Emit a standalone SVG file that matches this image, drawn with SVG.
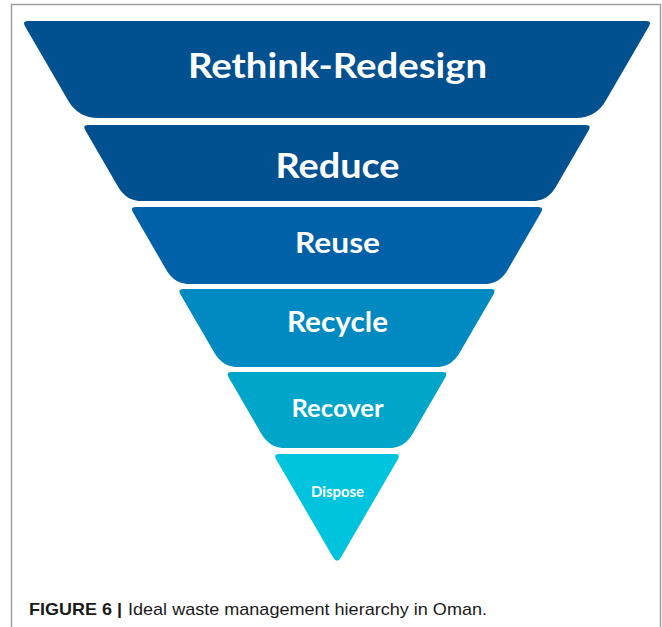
<svg xmlns="http://www.w3.org/2000/svg" width="662" height="627" viewBox="0 0 662 627">
<style>
.lbl{font-family:Lato,"Open Sans","Liberation Sans",sans-serif;font-weight:700;fill:#ffffff;text-anchor:middle}
.cap{font-family:"Liberation Sans",Arial,sans-serif;font-size:17px;fill:#1a1a1a}
</style>
<rect x="0" y="0" width="662" height="627" fill="#ffffff"/>
<rect x="11.5" y="4.5" width="649" height="640" fill="none" stroke="#a0a0a0" stroke-width="1.5"/>
<g id="rethink">
<path d="M 28 21 L 646 21 Q 652 21 648.99 26.19 L 605.73 100.7 Q 595.7 118 575.7 118 L 98.3 118 Q 78.3 118 68.27 100.7 L 25.01 26.19 Q 22 21 28 21 Z" fill="#01508f"/>
<text class="lbl" x="337.5" y="78" font-size="35" textLength="299" lengthAdjust="spacingAndGlyphs">Rethink-Redesign</text>
</g>
<g id="reduce">
<path d="M 88.3 125 L 585.7 125 Q 591.7 125 588.69 130.19 L 555.63 187.16 Q 547.6 201 531.6 201 L 142.4 201 Q 126.4 201 118.37 187.16 L 85.31 130.19 Q 82.3 125 88.3 125 Z" fill="#01508f"/>
<text class="lbl" x="337.5" y="177.5" font-size="35" textLength="124" lengthAdjust="spacingAndGlyphs">Reduce</text>
</g>
<g id="reuse">
<path d="M 135.9 207 L 538.1 207 Q 544.1 207 541.09 212.19 L 507.53 270.16 Q 499.5 284 483.5 284 L 190.5 284 Q 174.5 284 166.47 270.16 L 132.91 212.19 Q 129.9 207 135.9 207 Z" fill="#0060a8"/>
<text class="lbl" x="337.5" y="253" font-size="29" textLength="85" lengthAdjust="spacingAndGlyphs">Reuse</text>
</g>
<g id="recycle">
<path d="M 183.4 289 L 490.6 289 Q 496.6 289 493.59 294.19 L 459.33 353.16 Q 451.3 367 435.3 367 L 238.7 367 Q 222.7 367 214.67 353.16 L 180.41 294.19 Q 177.4 289 183.4 289 Z" fill="#008ac1"/>
<text class="lbl" x="337.5" y="332" font-size="28" textLength="101" lengthAdjust="spacingAndGlyphs">Recycle</text>
</g>
<g id="recover">
<path d="M 231.6 372 L 442.4 372 Q 448.4 372 445.39 377.19 L 412.33 434.16 Q 404.3 448 388.3 448 L 285.7 448 Q 269.7 448 261.67 434.16 L 228.61 377.19 Q 225.6 372 231.6 372 Z" fill="#00a6ca"/>
<text class="lbl" x="337.5" y="417" font-size="25" textLength="92" lengthAdjust="spacingAndGlyphs">Recover</text>
</g>
<g id="dispose">
<path d="M 279.1 454 L 394.9 454 Q 400.9 454 397.89 459.19 L 341.01 557.18 Q 337 564.1 332.99 557.18 L 276.11 459.19 Q 273.1 454 279.1 454 Z" fill="#00c4de"/>
<text class="lbl" x="337.5" y="497" font-size="15" textLength="53" lengthAdjust="spacingAndGlyphs">Dispose</text>
</g>
<g id="connectors"></g>
<g id="caption">
<text class="cap" x="29" y="614.5" font-weight="700" textLength="93" lengthAdjust="spacingAndGlyphs">FIGURE 6 |</text>
<text class="cap" x="128" y="614.5" textLength="359" lengthAdjust="spacingAndGlyphs">Ideal waste management hierarchy in Oman.</text>
</g>
</svg>
